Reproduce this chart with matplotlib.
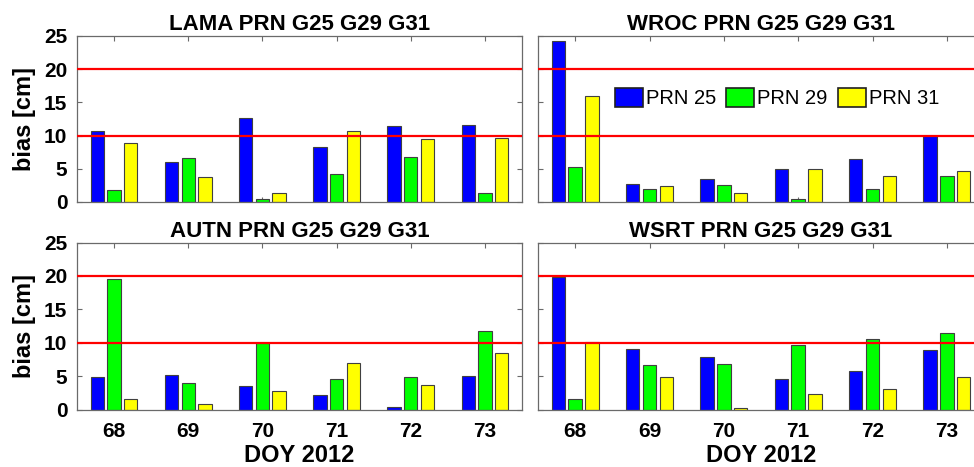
import matplotlib
matplotlib.use("Agg")
import matplotlib.pyplot as plt
import numpy as np

plt.rcParams['font.family'] = ['Liberation Sans', 'DejaVu Sans']

doy = [68, 69, 70, 71, 72, 73]
series_names = ["PRN 25", "PRN 29", "PRN 31"]
series_colors = ["#0000ff", "#00ff00", "#ffff00"]
thresholds = [10, 20]
yticks = [0, 5, 10, 15, 20, 25]

lama_titles = "LAMA PRN G25 G29 G31"
wroc_titles = "WROC PRN G25 G29 G31"
autn_titles = "AUTN PRN G25 G29 G31"
wsrt_titles = "WSRT PRN G25 G29 G31"

lama_g25 = [10.7, 6.0, 12.7, 8.3, 11.5, 11.6]
lama_g29 = [1.8, 6.6, 0.4, 4.2, 6.8, 1.3]
lama_g31 = [8.9, 3.7, 1.4, 10.7, 9.5, 9.7]

wroc_g25 = [24.2, 2.7, 3.5, 4.9, 6.5, 9.9]
wroc_g29 = [5.3, 2.0, 2.5, 0.4, 1.9, 3.9]
wroc_g31 = [15.9, 2.4, 1.4, 4.9, 3.9, 4.6]

autn_g25 = [4.8, 5.1, 3.5, 2.1, 0.4, 5.0]
autn_g29 = [19.6, 4.0, 10.0, 4.5, 4.9, 11.7]
autn_g31 = [1.5, 0.85, 2.7, 6.9, 3.6, 8.5]

wsrt_g25 = [19.8, 9.0, 7.9, 4.6, 5.8, 8.9]
wsrt_g29 = [1.5, 6.7, 6.8, 9.6, 10.5, 11.4]
wsrt_g31 = [10.1, 4.9, 0.25, 2.3, 3.1, 4.8]

W, H = 974, 467
fig = plt.figure(figsize=(W / 100, H / 100), dpi=100)

def px_axes(left, top, right, bottom):
    return fig.add_axes([left / W, 1 - bottom / H, (right - left) / W, (bottom - top) / H])

panels = [
    (lama_titles, [lama_g25, lama_g29, lama_g31], (77, 36, 522, 202), True, False),
    (wroc_titles, [wroc_g25, wroc_g29, wroc_g31], (538, 36, 984, 202), False, False),
    (autn_titles, [autn_g25, autn_g29, autn_g31], (77, 242.5, 522, 409.5), True, True),
    (wsrt_titles, [wsrt_g25, wsrt_g29, wsrt_g31], (538, 242.5, 984, 409.5), False, True),
]

x = np.array(doy, dtype=float)
width = 0.18
offsets = [-0.225, 0.0, 0.225]
spine_col = "#6a6a6a"

axes = []
for title, data, box, leftcol, bottomrow in panels:
    ax = px_axes(*box)
    axes.append(ax)
    for vals, off, col, name in zip(data, offsets, series_colors, series_names):
        ax.bar(x + off, vals, width=width, color=col, edgecolor="#404040",
               linewidth=0.8, label=name, zorder=2)
    for t in thresholds:
        ax.axhline(t, color="#ff0000", linewidth=1.6, zorder=3)
    ax.set_xlim(67.5, 73.5)
    ax.set_ylim(0, 25)
    ax.set_xticks(doy)
    ax.set_yticks(yticks)
    ax.tick_params(direction="in", top=True, right=True, length=3.5, width=0.8,
                   color=spine_col, labelsize=15, pad=7)
    ax.tick_params(axis="x", pad=9)
    for lab in ax.get_xticklabels() + ax.get_yticklabels():
        lab.set_fontweight("bold")
    for s in ax.spines.values():
        s.set_color(spine_col)
        s.set_linewidth(0.9)
    ax.set_title(title, fontsize=16, fontweight="bold", pad=4)
    if leftcol:
        ax.set_ylabel("bias [cm]", fontsize=17, fontweight="bold", labelpad=6)
    else:
        ax.tick_params(labelleft=False)
    if bottomrow:
        ax.set_xlabel("DOY 2012", fontsize=17, fontweight="bold", labelpad=2.5)
    else:
        ax.tick_params(labelbottom=False)

ax = axes[1]
leg = ax.legend(loc="center left", bbox_to_anchor=(0.172, 0.627), ncol=3,
                frameon=False, fontsize=14.5, handlelength=1.4, handleheight=1.1,
                handletextpad=0.15, columnspacing=0.5, borderpad=0, borderaxespad=0)
for p in leg.get_patches():
    p.set_edgecolor("#202020")
    p.set_linewidth(1.2)

fig.savefig("out.png", dpi=100)
